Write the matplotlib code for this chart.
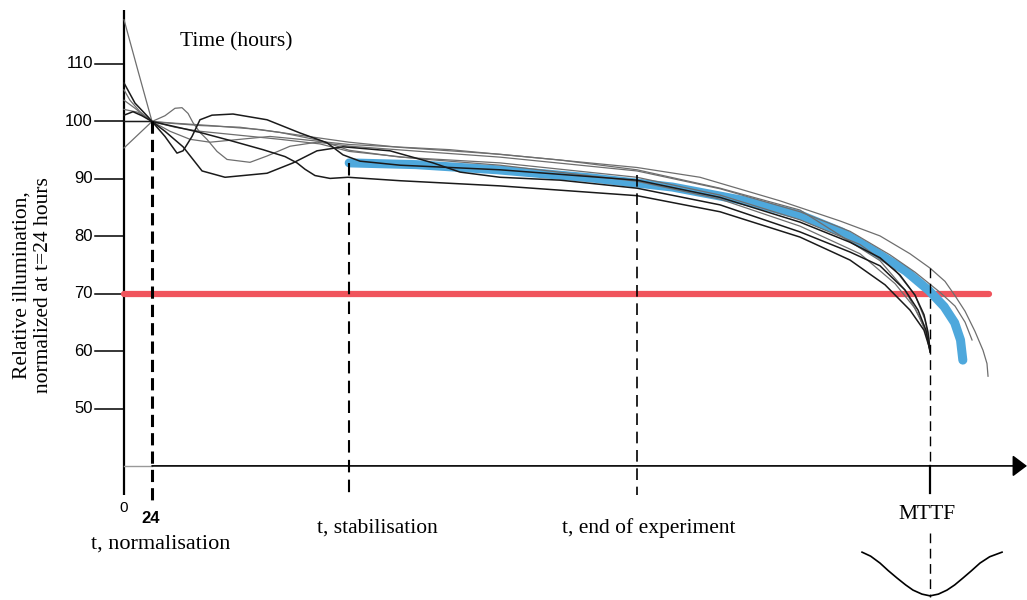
import matplotlib
matplotlib.use("Agg")
import matplotlib.pyplot as plt

# ---------------- data (hours, relative illumination %) ----------------
y_ticks = [50, 60, 70, 80, 90, 100, 110]
t_norm = 24
t_stab = 193
t_end = 440
t_mttf = 691
threshold = 70
threshold_span = [0, 741]

# average (blue) curve after stabilisation
avg_h = [193, 250, 320, 400, 470, 530, 580, 615, 645, 670, 690, 703, 712, 717, 719]
avg_v = [92.8, 92.5, 91.6, 90.2, 88.6, 86.3, 83.7, 80.8, 77.2, 74.0, 70.6, 67.8, 65.0, 62.0, 58.5]

# individual sample curves
curveA_h = [0, 12, 24, 43.7, 73.7, 116.6, 150.9, 192.9, 236.6, 322.3, 439.7, 493.7, 562.3, 613.7, 648, 673.7, 690.9, 703.7, 712.3, 720.9, 729.4, 736.3, 739.7, 740.6]
curveA_v = [117.7, 108.8, 100, 99.7, 99.3, 98.6, 97.6, 96.4, 95.5, 94.3, 92.0, 90.3, 86.2, 82.7, 80.1, 77.0, 74.5, 72.2, 69.7, 67.0, 63.5, 60.2, 57.9, 55.7]

curveB_h = [0, 9.4, 20.6, 24, 35.1, 45.4, 50.6, 58.3, 65.1, 75.4, 93.4, 122.6, 150.9, 174, 187.7, 202.3, 236.6, 322.3, 439.7, 510.9, 579.4, 622.3, 648, 665.1, 678, 685.7, 689.1, 690.9]
curveB_v = [106.7, 103.2, 100.8, 100, 97.4, 94.5, 94.9, 97.4, 100.3, 101.1, 101.3, 100.3, 98.0, 96.3, 94.2, 93.1, 92.4, 91.6, 89.8, 86.8, 82.5, 79.0, 76.3, 73.3, 69.8, 66.4, 63.4, 60.3]

curveC_h = [0, 7.7, 15.4, 24, 35.1, 50.6, 66.9, 86.6, 122.6, 144.9, 165.4, 187.7, 228, 264.9, 288, 322.3, 373.7, 439.7, 510.9, 579.4, 622.3, 648, 669.4, 680.6, 687.4, 690.9]
curveC_v = [101.1, 101.7, 101.0, 100, 98.3, 95.6, 91.4, 90.3, 91.0, 92.8, 94.9, 95.6, 94.9, 92.8, 91.2, 90.3, 89.8, 88.4, 85.5, 80.8, 77.3, 74.9, 70.7, 67.2, 63.7, 59.9]

curveD_h = [0, 24, 43.7, 65.1, 90.9, 119.1, 138, 148.3, 155.1, 163.7, 176.6, 192, 236.6, 322.3, 439.7, 510.9, 579.4, 622.3, 652.3, 673.7, 685.7, 690.9]
curveD_v = [100, 100, 99.1, 98.1, 96.7, 95.1, 93.9, 92.8, 91.7, 90.6, 90.1, 90.3, 89.7, 88.8, 87.1, 84.3, 79.9, 75.9, 71.6, 67.2, 63.7, 60.3]

curveE_h = [0, 12, 24, 35.1, 43.7, 49.7, 54.9, 59.1, 65.1, 71.1, 79.7, 88.3, 108, 122.6, 142.3, 165.4, 193.7, 253.7, 322.3, 439.7, 510.9, 579.4, 622.3, 656.6, 678, 699.4, 712.3, 720.9, 726.9]
curveE_v = [102.1, 101.6, 100, 101.0, 102.3, 102.4, 101.4, 99.8, 98.1, 96.9, 94.8, 93.4, 92.9, 94.0, 95.7, 96.4, 95.7, 94.8, 93.8, 91.4, 88.3, 84.3, 80.9, 76.8, 73.8, 70.3, 67.9, 65.1, 62.0]

curveF_h = [0, 24, 39.4, 65.1, 99.4, 133.7, 168, 192.9, 236.6, 322.3, 439.7, 510.9, 579.4, 630.9, 660.9, 678, 686.6, 690, 690.9]
curveF_v = [95.4, 100, 99.7, 99.3, 99.0, 98.1, 96.7, 95.0, 93.8, 92.8, 90.3, 87.2, 82.9, 78.6, 74.2, 69.8, 65.5, 62.0, 59.9]

curveG_h = [0, 5.1, 13.7, 24, 43.7, 65.1, 99.4, 133.7, 168, 192.9, 253.7, 322.3, 439.7, 510.9, 579.4, 630.9, 660.9, 678, 687.4, 690.9]
curveG_v = [105.5, 103.7, 101.7, 100, 99.0, 98.3, 97.6, 96.9, 96.1, 94.8, 93.5, 92.4, 89.6, 86.5, 81.8, 77.0, 71.8, 67.5, 63.5, 59.9]

curveH_h = [0, 9.4, 18, 24, 39.4, 56.6, 73.7, 99.4, 125.1, 150.9, 192.9, 279.4, 373.7, 439.7, 510.9, 579.4, 648, 669.4, 682.3, 689.1, 690.9]
curveH_v = [103.7, 102.3, 100.9, 100, 98.3, 96.9, 96.4, 96.9, 97.4, 96.9, 96.0, 95.1, 93.3, 91.6, 88.4, 84.6, 75.8, 70.7, 65.8, 62.4, 60.0]

# failure-time distribution sketch under MTTF
dist_h = [632.6, 640, 648, 655, 662.6, 670, 676.3, 684, 690.9, 698, 705.4, 712, 719.1, 726, 733.7, 742, 752.6]
dist_v = [25.1, 24.4, 23.2, 21.9, 20.6, 19.4, 18.5, 17.8, 17.5, 17.8, 18.5, 19.4, 20.6, 21.8, 23.2, 24.3, 25.1]

# ---------------- figure ----------------
SERIF = ['Liberation Serif', 'DejaVu Serif']
SANS = ['Liberation Sans', 'DejaVu Sans']

fig = plt.figure(figsize=(10.27, 6.0), dpi=100)
ax = fig.add_axes([0, 0, 1, 1])
ax.set_xlim(-106.3, 774.0)
ax.set_ylim(16.78, 121.13)
ax.axis('off')

x_axis_v = 40.1

# y axis
ax.plot([0, 0], [35.0, 119.4], color='black', lw=1.6, solid_capstyle='butt')
for t in y_ticks:
    ax.plot([-24.9, 0], [t, t], color='black', lw=1.1)
    ax.text(-26.6, t, str(t), ha='right', va='center', fontsize=12, family=SANS)

# x axis with arrow
ax.plot([0, 24], [x_axis_v, x_axis_v], color='#999999', lw=1.0)
ax.annotate('', xy=(774.0, x_axis_v), xytext=(24, x_axis_v),
            arrowprops=dict(arrowstyle='-|>,head_length=0.4,head_width=0.3', lw=1.2,
                            color='black', mutation_scale=22, shrinkA=0, shrinkB=0))

# threshold line
ax.plot(threshold_span, [threshold, threshold], color='#f0545c', lw=4.5,
        solid_capstyle='round', zorder=3)

# average curve
ax.plot(avg_h, avg_v, color='#4ea8dc', lw=6.5, solid_capstyle='round', zorder=4)

# sample curves
grays = [(curveA_h, curveA_v), (curveE_h, curveE_v), (curveF_h, curveF_v),
         (curveG_h, curveG_v), (curveH_h, curveH_v)]
blacks = [(curveB_h, curveB_v), (curveC_h, curveC_v), (curveD_h, curveD_v)]
for h, v in grays:
    ax.plot(h, v, color='#6e6e6e', lw=0.9, zorder=5)
for h, v in blacks:
    ax.plot(h, v, color='#1a1a1a', lw=1.1, zorder=5)

# vertical marker lines
ax.plot([t_norm, t_norm], [100, 33.6], color='black', lw=2.2,
        linestyle=(0, (4, 2)), zorder=6)
ax.plot([t_stab, t_stab], [92.8, 35.0], color='black', lw=1.5,
        linestyle=(0, (6, 3.5)), zorder=6)
ax.plot([t_end, t_end], [90.7, 35.0], color='black', lw=1.2,
        linestyle=(0, (7, 4)), zorder=6)
ax.plot([t_mttf, t_mttf], [74.5, x_axis_v], color='black', lw=1.0,
        linestyle=(0, (7, 4)), zorder=6)
ax.plot([t_mttf, t_mttf], [x_axis_v, 35.4], color='black', lw=1.6, zorder=6)
ax.plot([t_mttf, t_mttf], [28.4, 17.3], color='black', lw=1.0,
        linestyle=(0, (7, 4)), zorder=6)

# distribution sketch
ax.plot(dist_h, dist_v, color='black', lw=1.2)

# texts
ax.text(48, 113.8, 'Time (hours)', ha='left', va='center', fontsize=15.5, family=SERIF)
ax.text(-78, 71.6, 'Relative illumination,\nnormalized at t=24 hours', rotation=90,
        ha='center', va='center', fontsize=15.5, family=SERIF, linespacing=1.15)
ax.text(0, 32.8, '0', ha='center', va='center', fontsize=11, family=SANS)
ax.text(23.1, 31.0, '24', ha='center', va='center', fontsize=12, family=SANS, weight='bold')
ax.text(31.7, 26.5, 't, normalisation', ha='center', va='center', fontsize=16, family=SERIF)
ax.text(216.9, 29.3, 't, stabilisation', ha='center', va='center', fontsize=15.5, family=SERIF)
ax.text(450, 29.3, 't, end of experiment', ha='center', va='center', fontsize=15.5, family=SERIF)
ax.text(688.3, 31.6, 'MTTF', ha='center', va='center', fontsize=15.5, family=SERIF)

fig.savefig('out.png', dpi=100)
